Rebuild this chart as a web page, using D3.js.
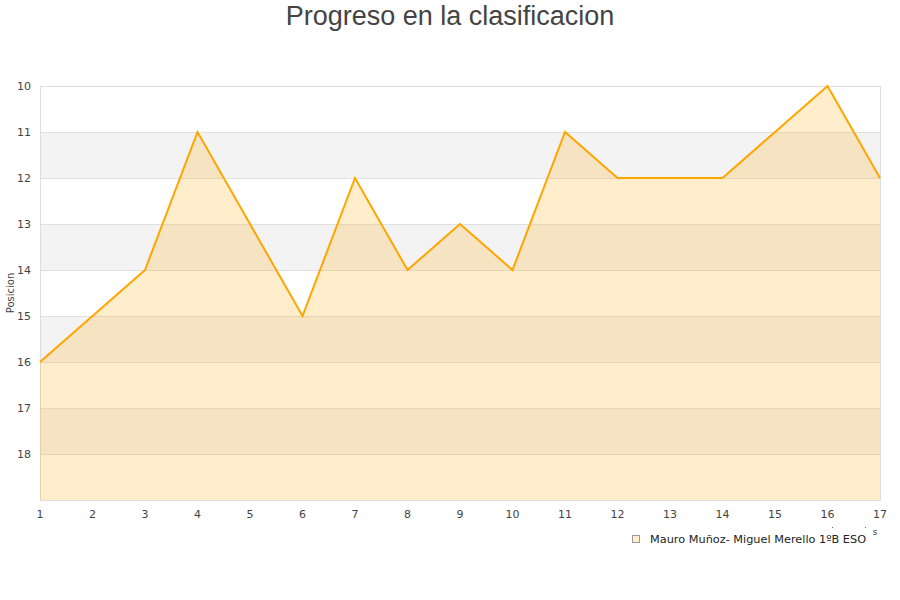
<!DOCTYPE html>
<html>
<head>
<meta charset="utf-8">
<script src="https://cdn.jsdelivr.net/npm/d3@7"></script>
<style>
  body { margin: 0; background: #fff; }
  text { font-family: "DejaVu Sans", sans-serif; }
</style>
</head>
<body>
<div id="chart"></div>
<script>
var jornadas = [1, 2, 3, 4, 5, 6, 7, 8, 9, 10, 11, 12, 13, 14, 15, 16, 17];
var posiciones = [16, 15, 14, 11, 13, 15, 12, 14, 13, 14, 11, 12, 12, 12, 11, 10, 12];
var yTicks = [10, 11, 12, 13, 14, 15, 16, 17, 18];
var bandas = [11, 13, 15, 17];
var serieNombre = "Mauro Muñoz- Miguel Merello 1ºB ESO";

var W = 900, H = 600;
var pLeft = 40, pRight = 880, pTop = 86, pBottom = 500;

var svg = d3.select("#chart").append("svg")
	.attr("width", W)
	.attr("height", H);

var x = d3.scaleLinear().domain([1, 17]).range([pLeft, pRight]);
var y = d3.scaleLinear().domain([10, 19]).range([pTop, pBottom]);

// alternate bands
svg.selectAll(".band").data(bandas).enter().append("rect")
	.attr("class", "band")
	.attr("x", pLeft)
	.attr("width", pRight - pLeft)
	.attr("y", function(d){ return y(d); })
	.attr("height", function(d){ return y(d + 1) - y(d); })
	.style("fill", "#f3f3f3");

// grid lines
svg.selectAll(".grid").data(yTicks).enter().append("line")
	.attr("class", "grid")
	.attr("x1", pLeft).attr("x2", pRight)
	.attr("y1", function(d){ return y(d) + 0.5; })
	.attr("y2", function(d){ return y(d) + 0.5; })
	.style("stroke", "#e0e0e0")
	.style("stroke-width", 1);

// frame
svg.append("rect")
	.attr("x", pLeft + 0.5).attr("y", pTop + 0.5)
	.attr("width", pRight - pLeft).attr("height", pBottom - pTop)
	.style("fill", "none")
	.style("stroke", "#dddddd");

var data = jornadas.map(function(j, i){ return {j: j, p: posiciones[i]}; });

var area = d3.area()
	.x(function(d){ return x(d.j); })
	.y0(pBottom)
	.y1(function(d){ return y(d.p); });

var line = d3.line()
	.x(function(d){ return x(d.j); })
	.y(function(d){ return y(d.p); });

svg.append("path").datum(data)
	.attr("d", area)
	.style("fill", "#ffa500")
	.style("fill-opacity", 0.2);

svg.append("path").datum(data)
	.attr("d", line)
	.style("fill", "none")
	.style("stroke", "#ffa500")
	.style("stroke-width", 2);

// y labels
svg.selectAll(".ylab").data(yTicks).enter().append("text")
	.attr("class", "ylab")
	.attr("x", 31)
	.attr("y", function(d){ return y(d); })
	.attr("dy", "0.35em")
	.attr("text-anchor", "end")
	.style("font-size", "11px")
	.style("fill", "#444")
	.text(function(d){ return d; });

// x labels
svg.selectAll(".xlab").data(jornadas).enter().append("text")
	.attr("class", "xlab")
	.attr("x", function(d){ return x(d); })
	.attr("y", 518)
	.attr("text-anchor", "middle")
	.style("font-size", "11px")
	.style("fill", "#444")
	.text(function(d){ return d; });

// axis title
svg.append("text")
	.attr("transform", "translate(14," + ((pTop + pBottom) / 2) + ") rotate(-90)")
	.attr("text-anchor", "middle")
	.style("font-size", "10px")
	.style("fill", "#444")
	.text("Posicion");

// clipped remains of x title
svg.append("text")
	.attr("x", 875).attr("y", 535)
	.attr("text-anchor", "middle")
	.style("font-size", "9px")
	.style("fill", "#444")
	.text("s");
svg.selectAll(".dot").data([832, 865]).enter().append("rect")
	.attr("class", "dot")
	.attr("x", function(d){ return d; }).attr("y", 527)
	.attr("width", 1).attr("height", 1)
	.style("fill", "#666");

// title
svg.append("text")
	.attr("x", 450)
	.attr("y", 25)
	.attr("text-anchor", "middle")
	.style("font-family", "'Liberation Sans', Arial, sans-serif")
	.style("font-size", "27px")
	.style("fill", "#444")
	.text("Progreso en la clasificacion");

// legend
svg.append("rect")
	.attr("x", 632.5).attr("y", 535.5)
	.attr("width", 7).attr("height", 7)
	.style("fill", "#ffedcc")
	.style("stroke", "#999");
svg.append("text")
	.attr("x", 650).attr("y", 543)
	.style("font-size", "11.3px")
	.style("fill", "#222")
	.text(serieNombre);
</script>
</body>
</html>
